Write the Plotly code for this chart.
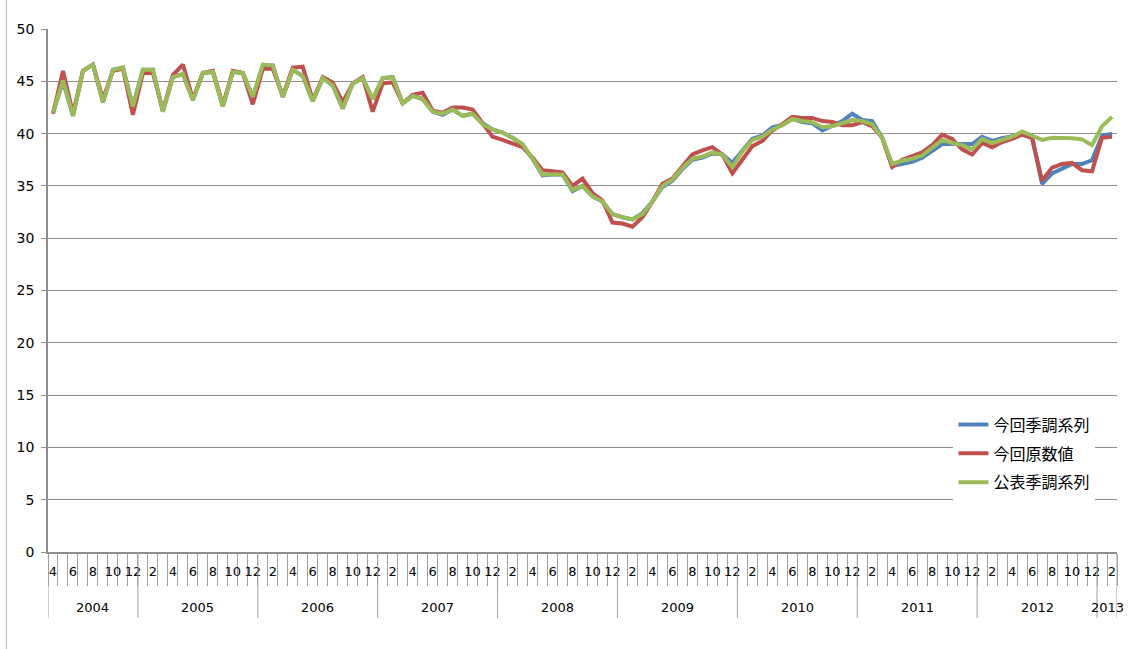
import pandas as pd
import plotly.graph_objects as go

# Monthly categories: April 2004 .. February 2013
periods = pd.period_range("2004-04", "2013-02", freq="M")
years = [p.year for p in periods]
months = [p.month for p in periods]

# 今回季調系列
konkai_sa = [
    42.0, 45.0, 41.7, 46.0, 46.6, 43.0, 46.1, 46.3, 42.6,
    46.1, 46.1, 42.1, 45.4, 45.7, 43.2, 45.8, 45.9, 42.6, 45.9, 45.8, 43.5,
    46.5, 46.5, 43.5, 46.1, 45.5, 43.1, 45.3, 44.6, 42.4, 44.8, 45.3, 43.3,
    45.3, 45.4, 42.9, 43.6, 43.3, 42.1, 41.8, 42.3, 41.7, 41.9, 41.0, 40.4,
    40.1, 39.6, 38.9, 37.6, 36.0, 36.1, 36.1, 34.5, 35.0, 34.0, 33.5, 32.3,
    32.0, 31.8, 32.4, 33.5, 34.9, 35.5, 36.6, 37.5, 37.7, 38.1, 38.0, 37.2,
    38.4, 39.5, 39.8, 40.6, 40.8, 41.4, 41.1, 41.0, 40.3, 40.7, 41.2, 41.9,
    41.3, 41.2, 39.6, 36.9, 37.1, 37.3, 37.7, 38.3, 39.0, 39.0, 39.0, 39.0,
    39.7, 39.3, 39.55, 39.7, 39.9, 39.6, 35.2, 36.2, 36.6, 37.1, 37.1, 37.45,
    39.8, 40.0,
]

# 今回原数値
konkai_raw = [
    41.9, 46.0, 41.9, 46.0, 46.6, 43.3, 46.0, 46.2, 41.8,
    45.8, 45.8, 42.2, 45.6, 46.6, 43.3, 45.8, 46.0, 42.7, 46.0, 45.8, 42.8,
    46.2, 46.2, 43.6, 46.3, 46.4, 43.2, 45.4, 44.9, 43.0, 44.8, 45.4, 42.1,
    44.8, 44.9, 42.9, 43.7, 43.9, 42.2, 42.0, 42.5, 42.5, 42.3, 41.0, 39.7,
    39.4, 39.0, 38.7, 37.7, 36.5, 36.4, 36.3, 35.0, 35.7, 34.3, 33.6, 31.5,
    31.4, 31.1, 32.0, 33.5, 35.2, 35.7, 36.9, 38.0, 38.4, 38.7, 38.0, 36.2,
    37.5, 38.8, 39.3, 40.3, 40.9, 41.6, 41.5, 41.5, 41.2, 41.1, 40.8, 40.8,
    41.1, 40.7, 39.6, 36.8, 37.5, 37.8, 38.2, 38.9, 39.9, 39.5, 38.5, 38.0,
    39.1, 38.7, 39.2, 39.5, 39.9, 39.6, 35.5, 36.75, 37.1, 37.2, 36.5, 36.4,
    39.6, 39.7,
]

# 公表季調系列
kouhyou_sa = [
    42.0, 45.1, 41.7, 46.0, 46.6, 43.0, 46.1, 46.3, 42.6,
    46.1, 46.1, 42.1, 45.4, 45.7, 43.2, 45.8, 45.9, 42.6, 45.9, 45.8, 43.5,
    46.6, 46.5, 43.5, 46.1, 45.5, 43.1, 45.3, 44.6, 42.4, 44.8, 45.3, 43.3,
    45.3, 45.4, 42.9, 43.6, 43.3, 42.1, 41.9, 42.3, 41.7, 41.9, 40.9, 40.4,
    40.1, 39.6, 39.0, 37.6, 36.1, 36.1, 36.1, 34.6, 35.0, 34.0, 33.5, 32.3,
    32.0, 31.8, 32.3, 33.5, 35.0, 35.6, 36.7, 37.6, 37.8, 38.2, 38.0, 36.8,
    38.3, 39.4, 39.7, 40.4, 40.8, 41.4, 41.2, 41.1, 40.6, 40.7, 41.0, 41.3,
    41.2, 40.9, 39.6, 37.1, 37.4, 37.6, 37.9, 38.6, 39.4, 39.1, 38.9, 38.5,
    39.5, 39.1, 39.4, 39.7, 40.2, 39.8, 39.4, 39.6, 39.6, 39.55, 39.45, 38.9,
    40.7, 41.6,
]

series = [
    ("今回季調系列", konkai_sa, "#4F81BD"),
    ("今回原数値", konkai_raw, "#C0504D"),
    ("公表季調系列", kouhyou_sa, "#9BBB59"),
]

idx = list(range(len(periods)))
GRID = "#8e8e8e"
AXIS = "#8e8e8e"

fig = go.Figure()
for name, vals, color in series:
    fig.add_trace(go.Scatter(
        x=idx, y=vals, name=name, mode="lines", legendgroup=name,
        line=dict(color=color, width=4),
    ))

# month labels every other month, centred on the category
month_ticks = [i for i in idx if months[i] % 2 == 0]
month_text = [str(months[i]) for i in month_ticks]
# category boundaries carry the short tick marks
boundaries = [i - 0.5 for i in idx] + [idx[-1] + 0.5]

fig.update_xaxes(
    range=[-0.5, idx[-1] + 0.5],
    tickmode="array", tickvals=month_ticks, ticktext=month_text,
    ticks="", showgrid=False, zeroline=False,
    showline=True, linecolor=AXIS, linewidth=1.5,
    tickfont=dict(family="DejaVu Sans", size=13, color="#000"),
    ticklabelstandoff=7,
    minor=dict(tickmode="array", tickvals=boundaries, ticks="outside",
               ticklen=32, tickwidth=1, tickcolor="#a0a0a0", showgrid=False),
)
fig.update_yaxes(
    range=[0, 50], dtick=5, tick0=0,
    showgrid=True, gridcolor=GRID, gridwidth=1.2,
    zeroline=False, showline=True, linecolor=AXIS, linewidth=1.5,
    ticks="outside", ticklen=5, tickcolor=AXIS,
    tickfont=dict(family="DejaVu Sans", size=14, color="#000"),
    ticklabelstandoff=4,
)

# year groups: dividers and centred labels below the month labels
year_list = sorted(set(years))
shapes = []
annotations = []
year_edges = [-0.5]
for y in year_list:
    members = [i for i in idx if years[i] == y]
    year_edges.append(members[-1] + 0.5)
    annotations.append(dict(
        x=(members[0] + members[-1]) / 2, y=-0.107, xref="x", yref="paper",
        text=str(y), showarrow=False, yanchor="middle", xanchor="center",
        font=dict(family="DejaVu Sans", size=13, color="#000"),
    ))
for e in year_edges:
    shapes.append(dict(type="line", xref="x", yref="paper",
                       x0=e, x1=e, y0=0, y1=-0.126,
                       line=dict(color="#a0a0a0", width=1)))
# chart-area border on the left
shapes.append(dict(type="line", xref="paper", yref="paper",
                   x0=-0.039, x1=-0.039, y0=-0.2, y1=1.1,
                   line=dict(color="#b0b0b0", width=1)))

fig.update_layout(
    width=1132, height=649,
    margin=dict(l=48, r=15, t=29, b=97),
    plot_bgcolor="white", paper_bgcolor="white",
    shapes=shapes, annotations=annotations,
    showlegend=True,
    legend=dict(
        x=0.847, y=0.276, xanchor="left", yanchor="top",
        bgcolor="white", borderwidth=0,
        font=dict(family="Noto Sans CJK JP", size=16, color="#000"),
        tracegroupgap=5,
    ),
)

fig.write_html("out.html")
